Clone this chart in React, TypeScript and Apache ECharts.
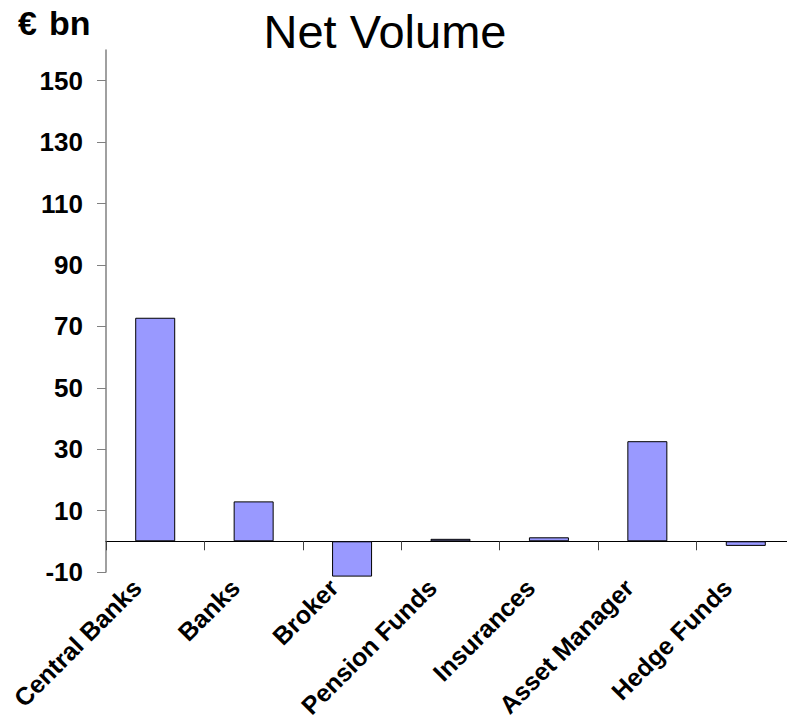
import React, { useEffect, useRef } from "react";
import * as echarts from "echarts";

// Net volume by client group, in EUR billions
const categories = [
  "Central Banks",
  "Banks",
  "Broker",
  "Pension Funds",
  "Insurances",
  "Asset Manager",
  "Hedge Funds",
];
const netVolume = [72.8, 13.0, -11.5, 0.8, 1.3, 32.6, -1.5];
const yTicks = [-10, 10, 30, 50, 70, 90, 110, 130, 150];
const yMin = -10;
const yMax = 160;

const FONT = "'Liberation Sans', Arial, Helvetica, sans-serif";

export default function App() {
  const ref = useRef<HTMLDivElement>(null);

  useEffect(() => {
    if (!ref.current) return;
    const chart = echarts.init(ref.current, null, { renderer: "svg" });
    chart.setOption({
      animation: false,
      backgroundColor: "#ffffff",
      textStyle: { fontFamily: FONT },
      grid: {
        left: 106,
        right: -8,
        top: 50,
        bottom: 150,
        containLabel: false,
        outerBoundsMode: "none",
      },
      graphic: [
        {
          type: "text",
          x: 385,
          y: 31,
          style: {
            text: "Net Volume",
            font: `normal 47px ${FONT}`,
            fill: "#000",
            align: "center",
            verticalAlign: "middle",
          },
        },
        {
          type: "text",
          x: 18,
          y: 23,
          style: {
            text: "€",
            font: `bold 34px ${FONT}`,
            fill: "#000",
            align: "left",
            verticalAlign: "middle",
          },
        },
        {
          type: "text",
          x: 49,
          y: 23,
          style: {
            text: "bn",
            font: `bold 34px ${FONT}`,
            fill: "#000",
            align: "left",
            verticalAlign: "middle",
          },
        },
      ],
      xAxis: {
        type: "category",
        data: categories,
        axisLine: { onZero: true, lineStyle: { color: "#000", width: 1 } },
        axisTick: { show: true, length: 9, lineStyle: { color: "#444" } },
        axisLabel: {
          interval: 0,
          rotate: 45,
          margin: -7,
          padding: [0, 26, 0, 0],
          color: "#000",
          fontFamily: FONT,
          fontWeight: "bold",
          fontSize: 25,
        },
        splitLine: { show: false },
      },
      yAxis: {
        type: "value",
        min: yMin,
        max: yMax,
        interval: 20,
        axisLine: { show: true, lineStyle: { color: "#808080", width: 1.5 } },
        axisTick: {
          show: true,
          length: 9,
          customValues: yTicks,
          lineStyle: { color: "#808080" },
        },
        axisLabel: {
          customValues: yTicks,
          margin: 23,
          color: "#000",
          fontFamily: FONT,
          fontWeight: "bold",
          fontSize: 26,
          formatter: (v: number) => (v === yMax ? "" : String(v)),
        },
        splitLine: { show: false },
      },
      series: [
        {
          type: "bar",
          data: netVolume,
          barWidth: 40,
          clip: false,
          itemStyle: { color: "#9999FF", borderColor: "#000", borderWidth: 1 },
        },
      ],
    });
    return () => chart.dispose();
  }, []);

  return (
    <div
      ref={ref}
      style={{ position: "fixed", left: 0, top: 0, width: 787, height: 722 }}
    />
  );
}
